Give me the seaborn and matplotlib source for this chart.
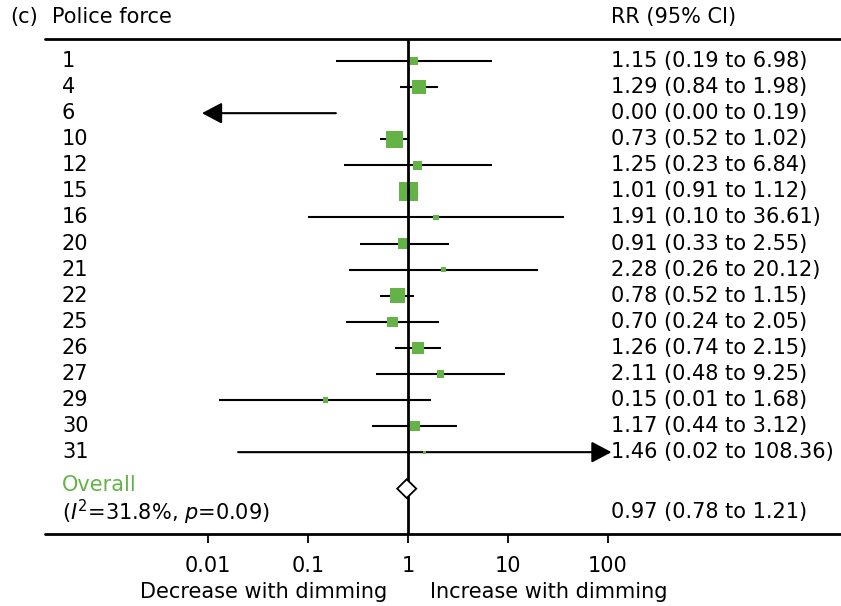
import numpy as np
import pandas as pd
import seaborn as sns
import matplotlib.pyplot as plt
from matplotlib.patches import ArrowStyle
from matplotlib.transforms import blended_transform_factory

# Study-level relative risks (RR) with 95% confidence intervals
forces = ["1", "4", "6", "10", "12", "15", "16", "20", "21", "22", "25", "26", "27", "29", "30", "31"]
rr = [1.15, 1.29, 0.00, 0.73, 1.25, 1.01, 1.91, 0.91, 2.28, 0.78, 0.70, 1.26, 2.11, 0.15, 1.17, 1.46]
ci_lo = [0.19, 0.84, 0.00, 0.52, 0.23, 0.91, 0.10, 0.33, 0.26, 0.52, 0.24, 0.74, 0.48, 0.013, 0.44, 0.02]
ci_hi = [6.98, 1.98, 0.19, 1.02, 6.84, 1.12, 36.61, 2.55, 20.12, 1.15, 2.05, 2.15, 9.25, 1.68, 3.12, 108.36]
weights = [2.9, 11.6, 0.0, 15.2, 3.8, 19.3, 1.5, 7.2, 1.5, 11.6, 5.9, 8.6, 2.9, 1.5, 5.9, 0.5]

overall_rr, overall_lo, overall_hi = 0.97, 0.78, 1.21
heterogeneity = r"($I^2$=31.8%, $p$=0.09)"

x_ticks = [0.01, 0.1, 1, 10, 100]
x_ticklabels = ["0.01", "0.1", "1", "10", "100"]

GREEN = "#63b347"
FONT_SIZE = 15

sns.set_theme(style="white")
plt.rcParams["font.family"] = ["DejaVu Sans"]
plt.rcParams["mathtext.fontset"] = "dejavusans"
plt.rcParams["text.color"] = "black"

df = pd.DataFrame({"force": forces, "rr": rr, "lo": ci_lo, "hi": ci_hi, "w": weights})
df["row"] = np.arange(len(df))

fig = plt.figure(figsize=(8.41, 6.06), dpi=100)
ax = fig.add_axes([0, 0, 1, 1])
ax.set_xscale("log")
ax.set_xlim(10 ** -4.08, 10 ** 4.33)
ax.set_ylim(20.9, -2.34)
ax.axis("off")

trans = blended_transform_factory(ax.transAxes, ax.transData)

# display limits of the RR axis; intervals beyond them end in an arrow
x_floor, x_ceil = 0.0087, 100

overall_row = len(df) + 0.4
top_rule = -0.85
bottom_rule = 18.14

# confidence interval whiskers
arrow_style = ArrowStyle("-|>", head_length=1.0, head_width=0.53)
arrow_kw = dict(arrowstyle=arrow_style, mutation_scale=12.2, lw=1.5,
                color="black", shrinkA=0, shrinkB=0)
for _, r in df.iterrows():
    if r["lo"] < x_floor:
        ax.annotate("", xy=(x_floor, r["row"]), xytext=(r["hi"], r["row"]), arrowprops=arrow_kw)
    elif r["hi"] > x_ceil:
        ax.annotate("", xy=(r["hi"], r["row"]), xytext=(r["lo"], r["row"]), arrowprops=arrow_kw)
    else:
        ax.hlines(r["row"], r["lo"], r["hi"], color="black", lw=1.5, zorder=2)

# point estimates, square area proportional to study weight
pts = df[df["rr"] > 0]
area_per_weight = 9.6
sns.scatterplot(data=pts, x="rr", y="row", size="w", marker="s", color=GREEN,
                sizes=(area_per_weight * pts["w"].min(), area_per_weight * pts["w"].max()),
                size_norm=(pts["w"].min(), pts["w"].max()),
                linewidth=0, legend=False, ax=ax, zorder=3)
ax.set_xlabel("")
ax.set_ylabel("")

# line of no effect
ax.vlines(1, top_rule, bottom_rule, color="black", lw=2, zorder=4)

# pooled estimate diamond
dh = 0.36
ax.fill([overall_lo, overall_rr, overall_hi, overall_rr],
        [overall_row, overall_row - dh, overall_row, overall_row + dh],
        facecolor="white", edgecolor="black", lw=1.3, zorder=5)

# horizontal rules
ax.plot([45 / 841, 1], [top_rule, top_rule], transform=trans, color="black", lw=2, clip_on=False)
ax.plot([45 / 841, 1], [bottom_rule, bottom_rule], transform=trans, color="black", lw=2, clip_on=False)

# x-axis ticks and labels
ax.vlines(x_ticks, bottom_rule, bottom_rule + 0.35, color="black", lw=1.3)
for t, lab in zip(x_ticks, x_ticklabels):
    ax.text(t, 19.35, lab, ha="center", va="center", fontsize=FONT_SIZE)
ax.text(0.617, 20.35, "Decrease with dimming", ha="right", va="center", fontsize=FONT_SIZE)
ax.text(1.66, 20.35, "Increase with dimming", ha="left", va="center", fontsize=FONT_SIZE)

# header
ax.text(10 / 841, -1.68, "(c)", transform=trans, ha="left", va="center", fontsize=FONT_SIZE)
ax.text(52 / 841, -1.68, "Police force", transform=trans, ha="left", va="center", fontsize=FONT_SIZE)
ax.text(611 / 841, -1.68, "RR (95% CI)", transform=trans, ha="left", va="center", fontsize=FONT_SIZE)

# row labels and estimates
for _, r in df.iterrows():
    ax.text(62 / 841, r["row"], r["force"], transform=trans, ha="left", va="center", fontsize=FONT_SIZE)
    ax.text(611 / 841, r["row"], f"{r['rr']:.2f} ({r['lo']:.2f} to {r['hi']:.2f})",
            transform=trans, ha="left", va="center", fontsize=FONT_SIZE)

ax.text(62 / 841, overall_row - 0.15, "Overall", transform=trans, ha="left", va="center",
        fontsize=FONT_SIZE, color=GREEN)
ax.text(62 / 841, overall_row + 0.9, heterogeneity, transform=trans, ha="left", va="center",
        fontsize=FONT_SIZE)
ax.text(611 / 841, overall_row + 0.9, f"{overall_rr:.2f} ({overall_lo:.2f} to {overall_hi:.2f})",
        transform=trans, ha="left", va="center", fontsize=FONT_SIZE)

fig.savefig("out.png", dpi=100)
